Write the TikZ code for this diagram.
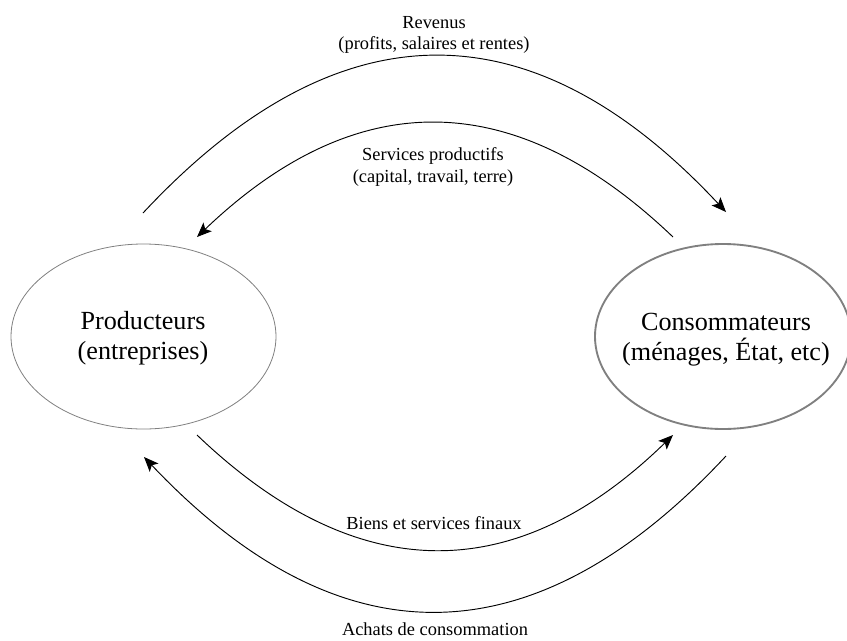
\documentclass[tikz,border=0pt]{standalone}
\usepackage{fontspec}
\setmainfont{Liberation Serif}
\usetikzlibrary{arrows.meta,shapes.geometric}
\begin{document}
\begin{tikzpicture}[x=0.75pt,y=-0.75pt,
  main node/.style={ellipse,draw=gray,inner sep=0pt},
  main text/.style={align=center,font=\fontsize{19.6}{22.5}\selectfont},
  flow label/.style={align=center,font=\fontsize{13.8}{15.8}\selectfont},
  flow/.style={line width=0.7pt,-{Stealth[length=11pt,width=9pt,inset=2.5pt]}}]
  	\useasboundingbox (0,0) rectangle (847,640);
  	
  	\node[main node,line width=0.6pt,minimum width=198.75pt,minimum height=138.75pt] at (143.5,336.5) (1) {};
  	\node[main node,line width=1.4pt,minimum width=192pt,minimum height=138.75pt] at (723,336.5) (2) {};
  	\node[main text] at (143,338) (t1) {Producteurs\\(entreprises)};
  	\node[main text] at (726,340) (t2) {Consommateurs\\(ménages, État, etc)};
  	
  	\coordinate (r1) at (143,213);
  	\coordinate (r2) at (726,212);
  	\coordinate (s1) at (673,237);
  	\coordinate (s2) at (197,237);
  	\coordinate (b1) at (197,435);
  	\coordinate (b2) at (673,435);
  	\coordinate (a1) at (726,456);
  	\coordinate (a2) at (144,457);
  	
  	\draw[flow] (r1) .. controls (338,4) and (532,4) .. (r2);
  	\draw[flow] (s1) .. controls (514,85) and (356,85) .. (s2);
  	\draw[flow] (b1) .. controls (357,588) and (516,588) .. (b2);
  	\draw[flow] (a1) .. controls (533,663) and (339,663) .. (a2);
  	
  	\node[flow label] at (434,34.5) (l1) {Revenus\\(profits, salaires et rentes)};
  	\node[flow label] at (433,167) (l2) {Services productifs\\(capital, travail, terre)};
  	\node[flow label] at (434,523) (l3) {Biens et services finaux};
  	\node[flow label] at (435,629) (l4) {Achats de consommation};
\end{tikzpicture}
\end{document}
